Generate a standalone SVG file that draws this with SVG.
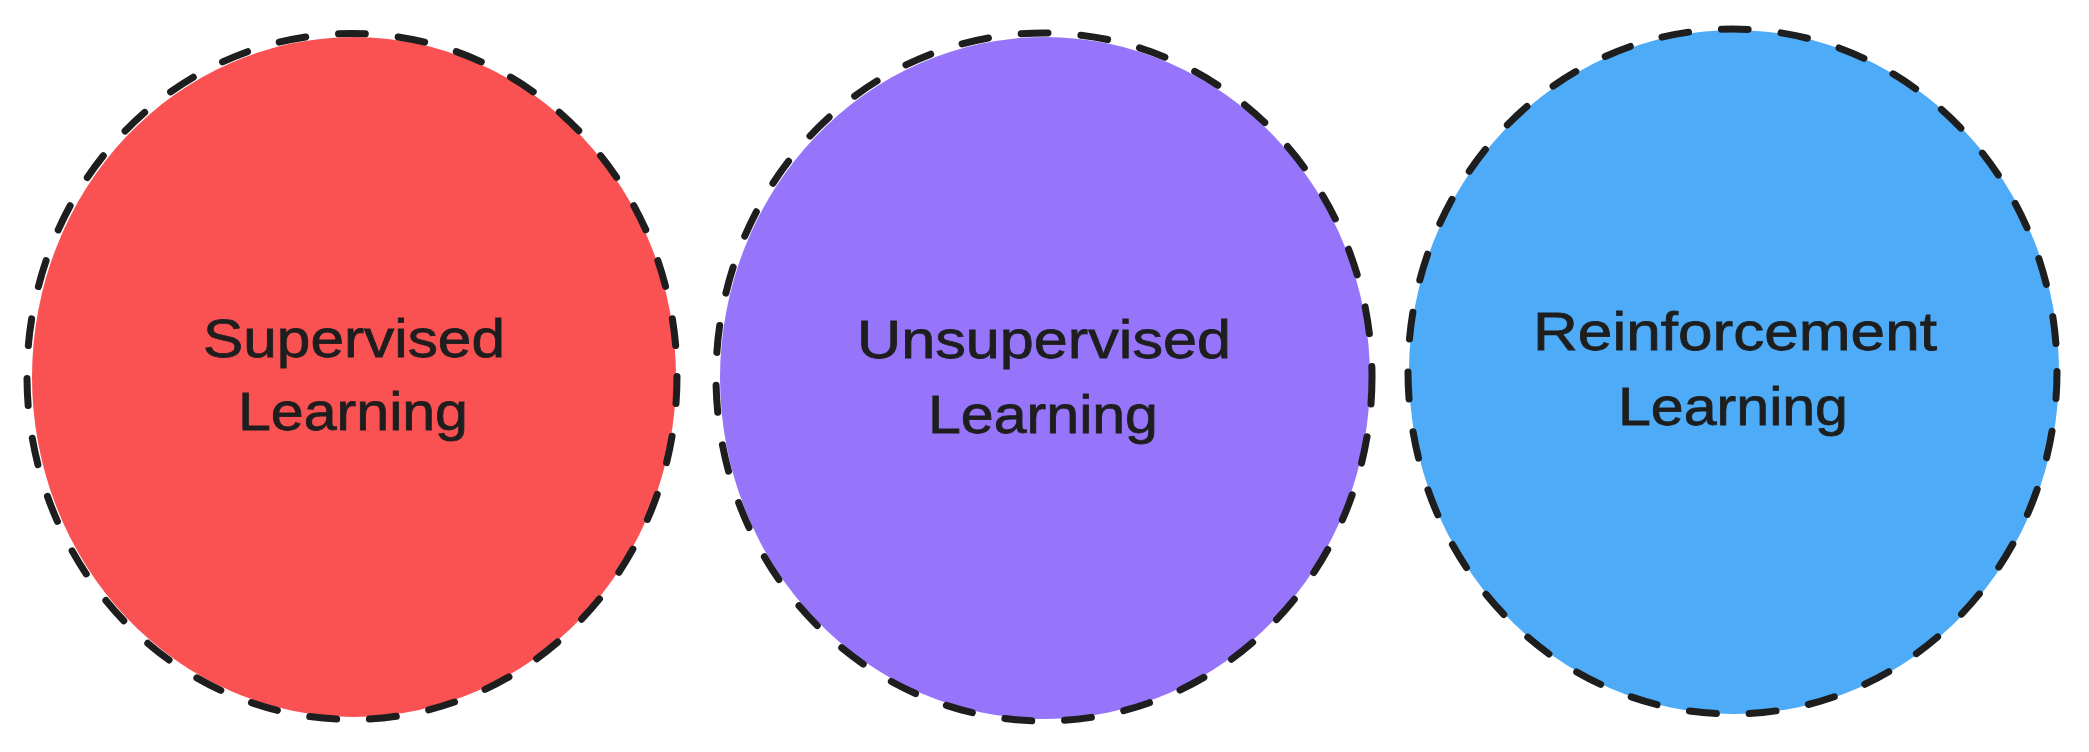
<svg xmlns="http://www.w3.org/2000/svg" width="2089" height="752" viewBox="0 0 2089 752">
  <style>
    .outline { fill: none; stroke: #1e1e1e; stroke-width: 7; stroke-dasharray: 27 33; stroke-linecap: round; }
    .label { font-family: "Liberation Sans", Arial, sans-serif; font-size: 54px; fill: #1e1e1e; stroke: #1e1e1e; stroke-width: 0.8; text-anchor: middle; }
  </style>
  <rect x="0" y="0" width="2089" height="752" fill="#ffffff"/>
  <g id="supervised">
    <ellipse cx="354" cy="377" rx="322" ry="340" fill="#fa5252"/>
    <ellipse class="outline" cx="352" cy="376.5" rx="325" ry="343"/>
    <text class="label" x="354" y="357" textLength="302" lengthAdjust="spacingAndGlyphs">Supervised</text>
    <text class="label" x="353" y="430" textLength="230" lengthAdjust="spacingAndGlyphs">Learning</text>
  </g>
  <g id="unsupervised">
    <ellipse cx="1045" cy="378" rx="325" ry="341" fill="#9775fa"/>
    <ellipse class="outline" cx="1044" cy="377" rx="328" ry="344"/>
    <text class="label" x="1044" y="358" textLength="374" lengthAdjust="spacingAndGlyphs">Unsupervised</text>
    <text class="label" x="1043" y="433" textLength="230" lengthAdjust="spacingAndGlyphs">Learning</text>
  </g>
  <g id="reinforcement">
    <ellipse cx="1734" cy="372" rx="325" ry="342" fill="#4dabf7"/>
    <ellipse class="outline" cx="1732.5" cy="371.5" rx="324.5" ry="342.5"/>
    <text class="label" x="1735" y="350" textLength="404" lengthAdjust="spacingAndGlyphs">Reinforcement</text>
    <text class="label" x="1733" y="425" textLength="230" lengthAdjust="spacingAndGlyphs">Learning</text>
  </g>
  <g id="connectors"></g>
</svg>
